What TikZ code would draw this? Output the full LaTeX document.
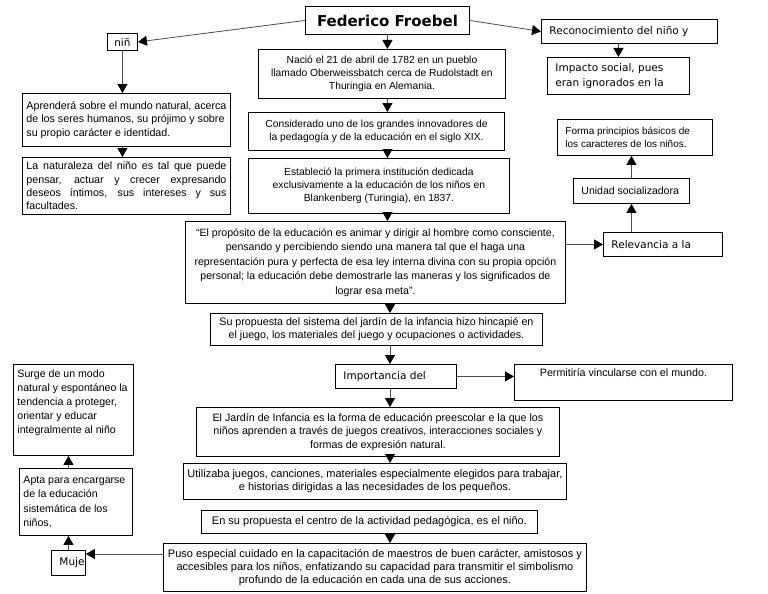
\documentclass[tikz,border=0pt]{standalone}
\usepackage{fontspec}
\setmainfont{Liberation Sans}
\newfontfamily\dejavu{DejaVu Sans}
\usetikzlibrary{arrows.meta,calc}

% text block of a box: width, height (px), vertical position, text
\newcommand{\boxtxt}[4]{\parbox[c][\dimexpr#2pt-4pt\relax][#3]{\dimexpr#1pt-8pt\relax}{#4}}
\newcommand{\lft}{\raggedright\leftskip=4pt\relax}
\newcommand{\jline}[1]{\makebox[\linewidth][s]{#1}}

\tikzset{
  box/.style={draw, fill=white, anchor=north west, inner xsep=4pt, inner ysep=2pt,
    line width=0.9pt, font={\fontsize{10.7}{13.3}\selectfont}},
  dvbox/.style={box, font={\dejavu\fontsize{10.5}{15}\selectfont}},
  arr/.style={draw=black!70, line width=0.8pt, -{Triangle[length=9pt,width=10pt,color=black]}},
}

\begin{document}
\begin{tikzpicture}[x=1pt,y=-1pt]
    \fill[white] (0,0) rectangle (768,594);
    \useasboundingbox (0,0) rectangle (768,594);
    \coordinate (axis) at (390,0);

    % Title
    \node[box, font={\dejavu\bfseries\fontsize{15}{16}\selectfont}] (title) at (305,6)
        {\boxtxt{164}{28}{c}{\centering Federico Froebel}};

    % Left branch
    \node[dvbox] (nino) at (107,33) {\boxtxt{30}{17}{c}{\centering niñ}};
    \node[box] (aprende) at (22,93) {\boxtxt{208}{53}{c}{\raggedright
        Aprenderá sobre el mundo natural, acerca\\ de los seres humanos, su prójimo y sobre\\
        su propio carácter e identidad.}};
    \node[box] (naturaleza) at (22,157) {\boxtxt{208}{57}{c}{%
        \jline{La naturaleza del niño es tal que puede}\\
        \jline{pensar, actuar y crecer expresando}\\
        \jline{deseos íntimos, sus intereses y sus}\\ facultades.}};

    % Central column
    \node[box, font={\fontsize{10.3}{13.3}\selectfont}] (nacio) at (258,49) {\boxtxt{247}{49}{c}{\centering
        Nació el 21 de abril de 1782 en un pueblo\\ llamado Oberweissbatch cerca de Rudolstadt en\\
        Thuringia en Alemania.}};
    \node[box, font={\fontsize{10.3}{13.3}\selectfont}] (consid) at (248,112) {\boxtxt{256}{38}{c}{\centering
        Considerado uno de los grandes innovadores de\\ la pedagogía y de la educación en el siglo XIX.}};
    \node[box, font={\fontsize{10.3}{13.3}\selectfont}] (establ) at (248,158) {\boxtxt{261}{55}{c}{\centering
        Estableció la primera institución dedicada\\ exclusivamente a la educación de los niños en\\
        Blankenberg (Turingia), en 1837.}};
    \node[box, font={\fontsize{10.6}{14.5}\selectfont}] (quote) at (185,221) {\boxtxt{380}{82}{c}{\centering
        “El propósito de la educación es animar y dirigir al hombre como consciente,\\
        pensando y percibiendo siendo una manera tal que el haga una\\
        representación pura y perfecta de esa ley interna divina con su propia opción\\
        personal; la educación debe demostrarle las maneras y los significados de\\
        lograr esa meta”.}};
    \node[box] (propuesta) at (210,313) {\boxtxt{332}{32}{c}{\centering
        Su propuesta del sistema del jardín de la infancia hizo hincapié en\\
        el juego, los materiales del juego y ocupaciones o actividades.}};
    \node[dvbox] (import) at (335,364) {\boxtxt{121}{24}{c}{\lft Importancia del}};
    \node[box] (jardin) at (196,407) {\boxtxt{363}{49}{c}{\centering
        El Jardín de Infancia es la forma de educación preescolar e la que los\\
        niños aprenden a través de juegos creativos, interacciones sociales y\\
        formas de expresión natural.}};
    \node[box, font={\fontsize{11}{13.3}\selectfont}] (utiliza) at (183,463) {\boxtxt{383}{36}{c}{\centering
        Utilizaba juegos, canciones, materiales especialmente elegidos para trabajar,\\
        e historias dirigidas a las necesidades de los pequeños.}};
    \node[box, font={\fontsize{11}{13.3}\selectfont}] (centro) at (201,510) {\boxtxt{336}{23}{c}{\centering
        En su propuesta el centro de la actividad pedagógica, es el niño.}};
    \node[box, font={\fontsize{11}{13.3}\selectfont}] (puso) at (163,543) {\boxtxt{423}{48}{c}{\centering
        Puso especial cuidado en la capacitación de maestros de buen carácter, amistosos y\\
        accesibles para los niños, enfatizando su capacidad para transmitir el simbolismo\\
        profundo de la educación en cada una de sus acciones.}};

    % Right side
    \node[dvbox] (recon) at (541,19) {\boxtxt{176}{24}{c}{\lft Reconocimiento del niño y}};
    \node[dvbox] (impacto) at (547,57) {\boxtxt{142}{37}{c}{\lft
        Impacto social, pues\\ eran ignorados en la}};
    \node[box, font={\fontsize{10}{13.3}\selectfont}] (forma) at (557,119) {\boxtxt{155}{36}{c}{\lft
        Forma principios básicos de\\ los caracteres de los niños.}};
    \node[box, font={\fontsize{10.5}{13.3}\selectfont}] (unidad) at (573,178) {\boxtxt{116}{25}{c}{\lft Unidad socializadora}};
    \node[dvbox] (relev) at (603,232) {\boxtxt{119}{24}{c}{\lft Relevancia a la}};
    \node[box] (permit) at (514,364) {\boxtxt{218}{36}{t}{\vspace*{2pt}\centering
        Permitiría vincularse con el mundo.}};

    % Bottom left
    \node[box, font={\fontsize{10.6}{14}\selectfont}] (surge) at (13,364) {\boxtxt{120}{91}{t}{\vspace*{3pt}\raggedright
        Surge de un modo\\ natural y espontáneo la\\ tendencia a proteger,\\ orientar y educar\\
        integralmente al niño}};
    \node[box, font={\fontsize{10.6}{14.3}\selectfont}] (apta) at (19,468) {\boxtxt{113}{67}{c}{\raggedright
        Apta para encargarse\\ de la educación\\ sistemática de los\\ niños,}};
    \node[dvbox] (muje) at (51,550) {\boxtxt{34}{25}{c}{\lft Muje}};
    \coordinate (mujein) at ($(muje.north east)+(0,4)$);

    % Arrows
    \draw[arr] (title.west) -- (nino.east);
    \draw[arr] (title.east) -- (recon.west);
    \draw[arr] (nino.south) -- (nino.south |- aprende.north);
    \draw[arr] (nino.south |- aprende.south) -- (nino.south |- naturaleza.north);
    \draw[arr] (title.south) -- (title.south |- nacio.north);
    \draw[arr] (title.south |- nacio.south) -- (title.south |- consid.north);
    \draw[arr] (title.south |- consid.south) -- (title.south |- establ.north);
    \draw[arr] (title.south |- establ.south) -- (title.south |- quote.north);
    \draw[arr] (impacto.north |- recon.south) -- (impacto.north);
    \draw[arr] (quote.east |- relev.west) -- (relev.west);
    \draw[arr] (unidad.south |- relev.north) -- (unidad.south);
    \draw[arr] (unidad.north) -- (unidad.north |- forma.south);
    \draw[arr] (axis |- quote.south) -- (axis |- propuesta.north);
    \draw[arr] (axis |- propuesta.south) -- (axis |- import.north);
    \draw[arr] (import.east) -- (import.east -| permit.west);
    \draw[arr] (axis |- import.south) -- (axis |- jardin.north);
    \draw[arr] (axis |- jardin.south) -- (axis |- utiliza.north);
    \draw[arr] (axis |- centro.south) -- (axis |- puso.north);
    \draw[arr] (puso.west |- mujein) -- (mujein);
    \draw[arr] (muje.north) -- (muje.north |- apta.south);
    \draw[arr] (muje.north |- apta.north) -- (muje.north |- surge.south);
\end{tikzpicture}
\end{document}
